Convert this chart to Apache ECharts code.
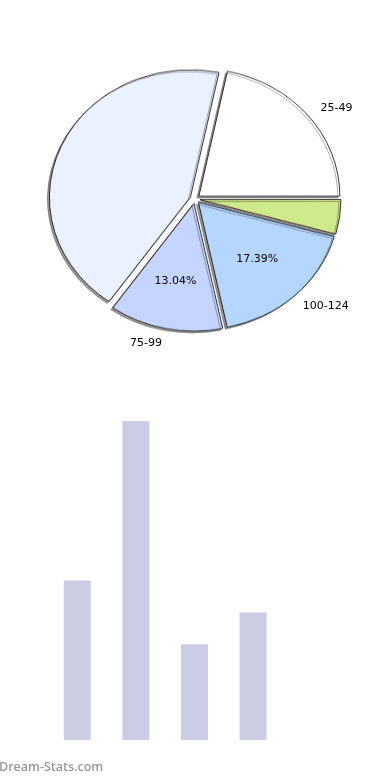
<!DOCTYPE html>
<html><head><meta charset="utf-8">
<script src="https://cdn.jsdelivr.net/npm/echarts@6/dist/echarts.min.js"></script>
<style>
html,body{margin:0;padding:0;background:#fff;width:390px;height:780px;overflow:hidden;position:relative}
#pie{position:absolute;left:0;top:0;width:390px;height:440px;transform:scaleY(0.905);transform-origin:0 0}
#lab{position:absolute;left:0;top:0;width:390px;height:400px}
#bar{position:absolute;left:0;top:360px;width:390px;height:420px}
</style></head><body>
<div id="bar"></div>
<div id="pie"></div>
<div id="lab"></div>
<script>
// pie slices in drawing order (clockwise from start)
const pieNames = ['25-49', '50-74', '100-124', '75-99', '0-24'];
const pieValues = [5, 1, 4, 3, 10];
const pieColors = ['#ffffff', '#cfea8b', '#b5d7ff', '#c5d5ff', '#ebf1fe'];
// bar chart
const barCategories = ['A', 'B', 'C', 'D'];
const barValues = [5, 10, 3, 4];
const watermark = 'Dream-Stats.com';

const font = 'DejaVu Sans';
const START = 78.3;

const pie = echarts.init(document.getElementById('pie'), null, { renderer: 'canvas' });
pie.setOption({
  animation: false,
  series: [{
    type: 'pie', radius: 141, center: [195, 220], startAngle: START, clockwise: true,
    selectedMode: 'multiple', selectedOffset: 5, avoidLabelOverlap: false,
    label: { show: false }, labelLine: { show: false },
    emphasis: { disabled: true },
    itemStyle: { borderColor: '#000', borderWidth: 0.8, shadowColor: 'rgba(0,0,0,0.4)', shadowOffsetX: -2, shadowOffsetY: 2, shadowBlur: 0 },
    data: pieNames.map((n, i) => ({ name: n, value: pieValues[i], selected: true, itemStyle: { color: pieColors[i] } }))
  }]
});

// text labels drawn unscaled, placed by the same pie geometry
function labelSeries(name, startAngle, radius, fmt) {
  return {
    type: 'pie', silent: true, radius: radius, center: [193, 199],
    startAngle: startAngle, clockwise: true, animation: false,
    itemStyle: { color: 'rgba(0,0,0,0)', borderWidth: 0 },
    label: { show: true, position: 'inside', color: '#000', fontFamily: font, fontSize: 11, formatter: fmt },
    labelLine: { show: false },
    data: pieNames.map((n, i) => ({ name: n, value: pieValues[i], label: { show: n === name } }))
  };
}
const lab = echarts.init(document.getElementById('lab'), null, { renderer: 'canvas' });
lab.setOption({
  animation: false,
  series: [
    labelSeries('25-49', START - 6.8, 334, '{b}'),
    labelSeries('100-124', START + 8.0, 335, '{b}'),
    labelSeries('75-99', START - 6.3, 298, '{b}'),
    labelSeries('100-124', START + 3.7, 170, '{d}%'),
    labelSeries('75-99', START - 0.4, 162, '{d}%')
  ]
});

const bar = echarts.init(document.getElementById('bar'), null, { renderer: 'canvas' });
bar.setOption({
  animation: false,
  grid: { left: 48, width: 234.4, top: 61, bottom: 40 },
  xAxis: { type: 'category', data: barCategories, show: false },
  yAxis: { type: 'value', min: 0, max: 10, show: false },
  series: [{ type: 'bar', data: barValues, barWidth: 27, itemStyle: { color: '#ccccE4' }, silent: true }],
  graphic: [{ type: 'text', left: -1, top: 401, style: { text: watermark, fill: '#999999', font: '600 12.5px "Open Sans"' } }]
});
</script>
</body></html>
